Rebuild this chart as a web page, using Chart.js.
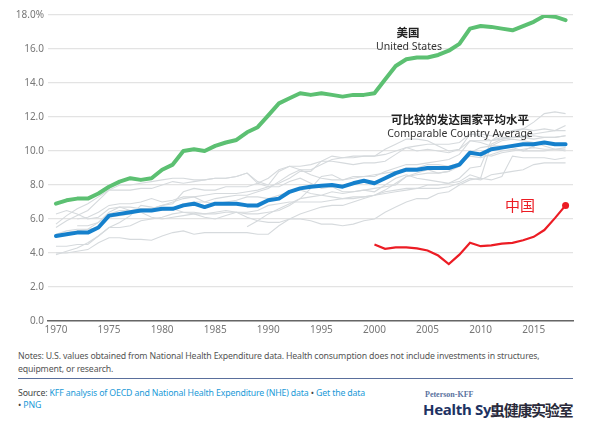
<!DOCTYPE html>
<html>
<head>
<meta charset="utf-8">
<script src="https://cdn.jsdelivr.net/npm/chart.js@4.4.1/dist/chart.umd.min.js"></script>
<style>
  html, body { margin:0; padding:0; background:#fff; width:593px; height:435px; overflow:hidden; font-family:"Noto Sans", sans-serif; }
  #wrap { position:absolute; left:0; top:0; width:593px; height:341px; }
  .notes { position:absolute; left:18px; top:350px; width:560px; font-size:8.75px; line-height:13px; color:#555; letter-spacing:-0.15px; }
  .sep { position:absolute; left:18px; top:378px; width:555px; height:1px; background:#5a6f9c; }
  .src { position:absolute; left:18px; top:387px; font-size:8.75px; line-height:12px; color:#444; letter-spacing:-0.15px; }
  .src a { color:#1b9ad8; text-decoration:none; }
  .logo1 { position:absolute; left:425px; top:390px; font-family:"Liberation Serif", serif; font-weight:bold; font-size:8px; color:#5a72a0; }
  .logo2 { position:absolute; left:423px; top:399px; font-family:"Noto Sans", sans-serif; font-weight:bold; font-size:15px; color:#1d3262; letter-spacing:-0.3px; }
  .wm { position:absolute; left:490px; top:399px; font-family:"Noto Sans CJK SC", sans-serif; font-weight:bold; font-size:15px; color:#2a2a3a; letter-spacing:-1.3px; text-shadow:0 0 2px #fff; }
</style>
</head>
<body>
<div id="wrap"><canvas id="c" width="593" height="341"></canvas></div>
<div class="notes">Notes: U.S. values obtained from National Health Expenditure data. Health consumption does not include investments in structures,<br>equipment, or research.</div>
<div class="sep"></div>
<div class="src">Source: <a>KFF analysis of OECD and National Health Expenditure (NHE) data</a> • <a>Get the data</a><br>• <a>PNG</a></div>
<div class="logo1">Peterson-KFF</div>
<div class="logo2">Health Sys</div>
<div class="wm">虫健康实验室</div>
<script>
const years = [];
for (let y = 1970; y <= 2018; y++) years.push(y);

const yTicks = [0, 2, 4, 6, 8, 10, 12, 14, 16, 18];
const xTicks = [1970, 1975, 1980, 1985, 1990, 1995, 2000, 2005, 2010, 2015];

const unitedStates = [6.9,7.1,7.2,7.2,7.5,7.9,8.2,8.4,8.3,8.4, 8.9,9.2,10.0,10.1,10.0,10.3,10.5,10.65,11.1,11.4, 12.1,12.8,13.1,13.4,13.3,13.4,13.3,13.2,13.3,13.3, 13.4,14.2,15.0,15.4,15.5,15.5,15.65,15.9,16.3,17.2, 17.35,17.3,17.2,17.1,17.35,17.6,17.95,17.9,17.7];

const comparableAvg = [5.0,5.1,5.2,5.2,5.5,6.2,6.3,6.4,6.5,6.5, 6.6,6.6,6.8,6.9,6.7,6.9,6.9,6.9,6.8,6.8, 7.1,7.2,7.6,7.8,7.9,7.95,8.0,7.9,8.1,8.25, 8.1,8.4,8.7,8.9,8.9,9.0,9.0,9.0,9.2,9.9, 9.8,10.1,10.2,10.3,10.4,10.4,10.5,10.4,10.4];

const china = [null,null,null,null,null,null,null,null,null,null, null,null,null,null,null,null,null,null,null,null, null,null,null,null,null,null,null,null,null,null, 4.5,4.25,4.33,4.33,4.27,4.15,3.85,3.35,3.9,4.6, 4.4,4.45,4.55,4.6,4.75,4.95,5.35,6.05,6.8];

const canada = [6.3,6.5,6.3,6.0,6.1,6.6,6.7,6.7,6.6,6.6, 6.8,6.9,7.6,7.8,7.7,7.7,7.9,7.9,7.9,8.1, 8.4,8.9,9.1,8.9,8.6,8.4,8.3,8.3,8.5,8.5, 8.5,8.8,9.0,9.2,9.2,9.3,9.4,9.5,9.8,10.6, 10.5,10.3,10.3,10.2,10.0,10.3,10.5,10.4,10.4];
const sweden = [5.7,6.2,6.6,6.9,7.3,7.7,8.0,8.0,8.1,8.2, 8.3,8.4,8.4,8.3,8.3,8.4,8.4,8.5,8.7,8.1, 7.9,7.9,8.2,8.4,8.1,7.8,7.9,7.6,7.6,7.7, 7.6,8.0,8.4,8.6,8.4,8.3,8.2,8.1,8.2,8.6, 8.4,10.4,10.7,10.8,10.8,10.7,10.8,10.8,10.9];
const germany = [5.5,5.9,6.2,6.5,7.1,7.7,7.7,7.7,7.8,7.8, 8.0,8.2,8.1,8.2,8.3,8.4,8.4,8.5,8.7,8.2, 8.0,8.8,9.1,9.1,9.2,9.4,9.7,9.6,9.6,9.7, 9.7,9.8,10.0,10.2,10.0,10.1,10.0,9.9,10.1,11.0, 10.9,10.6,10.7,10.8,10.9,11.0,11.1,11.2,11.5];
const france = [5.1,5.3,5.4,5.4,5.5,6.1,6.2,6.3,6.5,6.6, 6.8,7.0,7.2,7.3,7.4,7.5,7.5,7.5,7.6,7.7, 7.9,8.1,8.4,8.8,8.8,9.4,9.4,9.3,9.2,9.3, 9.3,9.4,9.8,10.2,10.3,10.4,10.4,10.4,10.5,11.0, 11.0,10.9,11.0,11.1,11.3,11.2,11.3,11.2,11.2];
const switzerland = [null,null,5.6,5.6,5.8,6.3,6.5,6.5,6.6,6.6, 6.6,6.6,6.9,7.0,7.0,7.2,7.3,7.4,7.4,7.6, 7.8,8.2,8.6,8.9,8.9,9.2,9.5,9.6,9.7,9.7, 9.7,10.1,10.4,10.7,10.7,10.6,10.3,10.0,10.1,10.6, 10.6,10.6,11.0,11.2,11.3,11.7,12.2,12.3,12.2];
const japan = [4.4,4.4,4.5,4.5,5.0,5.5,5.5,5.6,5.9,6.0, 6.1,6.3,6.4,6.4,6.3,6.3,6.4,6.4,6.1,5.9, 5.8,5.8,6.0,6.3,6.5,6.7,6.8,6.8,7.0,7.2, 7.4,7.6,7.7,7.8,7.8,8.0,8.0,8.1,8.4,9.0, 9.1,10.6,10.8,10.8,10.8,10.9,10.8,10.8,10.9];
const netherlands = [null,null,6.0,6.1,6.4,6.8,6.9,6.9,7.0,7.2, 7.0,7.1,7.3,7.3,7.0,6.9,7.0,7.1,7.3,7.3, 7.2,7.4,7.6,7.7,7.5,7.4,7.3,7.2,7.3,7.3, 7.4,7.7,8.1,8.5,8.6,8.7,8.7,8.8,9.1,9.9, 10.2,10.3,10.6,10.7,10.6,10.5,10.3,10.1,10.0];
const austria = [3.9,4.1,4.3,4.6,5.0,5.5,5.8,6.2,6.8,6.7, 6.5,6.6,6.4,6.3,6.1,6.0,6.2,6.4,6.3,6.3, 6.4,6.5,6.8,7.2,7.8,8.5,8.6,8.3,8.4,8.5, 8.6,8.7,8.8,9.0,9.0,9.2,9.2,9.1,9.3,9.8, 9.8,9.7,9.9,10.0,10.1,10.2,10.1,10.1,10.1];
const belgium = [null,null,null,null,null,null,null,null,null,null, null,null,null,null,null,null,null,null,5.55,5.9, 6.3,6.6,6.9,7.2,7.3,7.4,7.6,7.5,7.6,7.7, 7.8,7.9,8.0,8.5,8.7,8.9,8.7,8.8,9.3,9.7, 9.6,9.8,10.0,10.1,10.0,10.0,10.0,10.1,10.2];
const unitedKingdom = [4.0,4.0,4.1,4.2,4.6,4.9,4.9,4.8,4.8,4.75, 5.0,5.2,5.3,5.1,5.2,5.2,5.2,5.2,5.2,5.1, 5.1,5.6,6.0,6.0,5.9,5.7,5.7,5.6,5.7,5.9, 6.0,6.4,6.7,7.0,7.2,7.2,7.5,7.6,8.0,8.3, 8.4,8.3,8.5,9.7,9.6,9.6,9.6,9.5,9.6];
const australia = [null,5.2,5.3,5.4,5.8,6.4,6.7,6.5,6.4,6.1, 6.0,6.1,6.2,6.3,6.3,6.4,6.5,6.4,6.4,6.5, 6.8,6.9,7.0,7.0,7.0,7.0,7.1,7.2,7.2,7.3, 7.4,7.5,7.6,7.7,7.8,7.8,7.8,7.9,8.1,8.4, 8.3,8.6,8.7,8.8,8.9,9.2,9.3,9.3,9.3];

const greyCountries = [canada, sweden, germany, france, switzerland, japan, netherlands, austria, belgium, unitedKingdom, australia];

function toXY(arr) { return years.map((yr, i) => ({ x: yr, y: arr[i] })); }

const datasets = [];
greyCountries.forEach(arr => datasets.push({
  data: toXY(arr), borderColor: '#d6dadd', borderWidth: 1.1, pointRadius: 0, tension: 0, order: 10, spanGaps: false
}));
datasets.push({ data: toXY(comparableAvg), borderColor: '#1580cc', borderWidth: 4, pointRadius: 0, tension: 0, order: 3, borderCapStyle: 'round', borderJoinStyle: 'round' });
datasets.push({ data: toXY(unitedStates), borderColor: '#5cc072', borderWidth: 4, pointRadius: 0, tension: 0, order: 2, borderCapStyle: 'round', borderJoinStyle: 'round' });
datasets.push({ data: toXY(china), borderColor: '#ec1c24', borderWidth: 2.2, tension: 0, order: 1,
  pointRadius: ctx => (ctx.dataIndex === years.length - 1 ? 3.5 : 0),
  pointBackgroundColor: '#ec1c24', pointBorderWidth: 0 });

const labelPlugin = {
  id: 'labels',
  afterDatasetsDraw(chart) {
    const c = chart.ctx;
    c.save();
    c.textAlign = 'center';
    c.textBaseline = 'middle';
    c.fillStyle = '#222';
    c.font = 'bold 11.5px "Noto Sans CJK SC"';
    c.fillText('美国', 408, 33);
    c.font = '10.5px "Noto Sans"';
    c.fillStyle = '#333';
    c.fillText('United States', 409, 47);
    c.fillStyle = '#222';
    c.font = 'bold 11.5px "Noto Sans CJK SC"';
    c.fillText('可比较的发达国家平均水平', 460, 120);
    c.font = '10.5px "Noto Sans"';
    c.fillStyle = '#333';
    c.fillText('Comparable Country Average', 460, 134);
    c.font = '15px "Noto Sans CJK SC"';
    c.fillStyle = '#ec1c24';
    c.fillText('中国', 520, 205);
    c.restore();
  }
};

new Chart(document.getElementById('c'), {
  type: 'line',
  data: { datasets },
  plugins: [labelPlugin],
  options: {
    responsive: false,
    animation: false,
    layout: { padding: { top: 15, right: 20, left: 0, bottom: 0 } },
    plugins: { legend: { display: false }, tooltip: { enabled: false } },
    scales: {
      x: {
        type: 'linear', min: 1969.25, max: 2018.7,
        afterBuildTicks: s => { s.ticks = xTicks.map(v => ({ value: v })); },
        afterFit: s => { s.height = 20; },
        grid: { display: false, drawTicks: false },
        border: { display: true, color: '#666', width: 1.5 },
        ticks: { padding: 3, color: '#777', font: { family: 'Noto Sans', size: 10 }, callback: v => String(v), maxRotation: 0 }
      },
      y: {
        min: 0, max: 18,
        afterBuildTicks: s => { s.ticks = yTicks.map(v => ({ value: v })); },
        afterFit: s => { s.width = 48; },
        grid: { color: '#e3e3e3', lineWidth: 1.2, drawTicks: false },
        border: { display: false },
        ticks: { padding: 4, color: '#777', font: { family: 'Noto Sans', size: 10 },
          callback: v => (v === 18 ? v.toFixed(1) + '%' : v.toFixed(1)) }
      }
    }
  }
});
</script>
</body>
</html>
